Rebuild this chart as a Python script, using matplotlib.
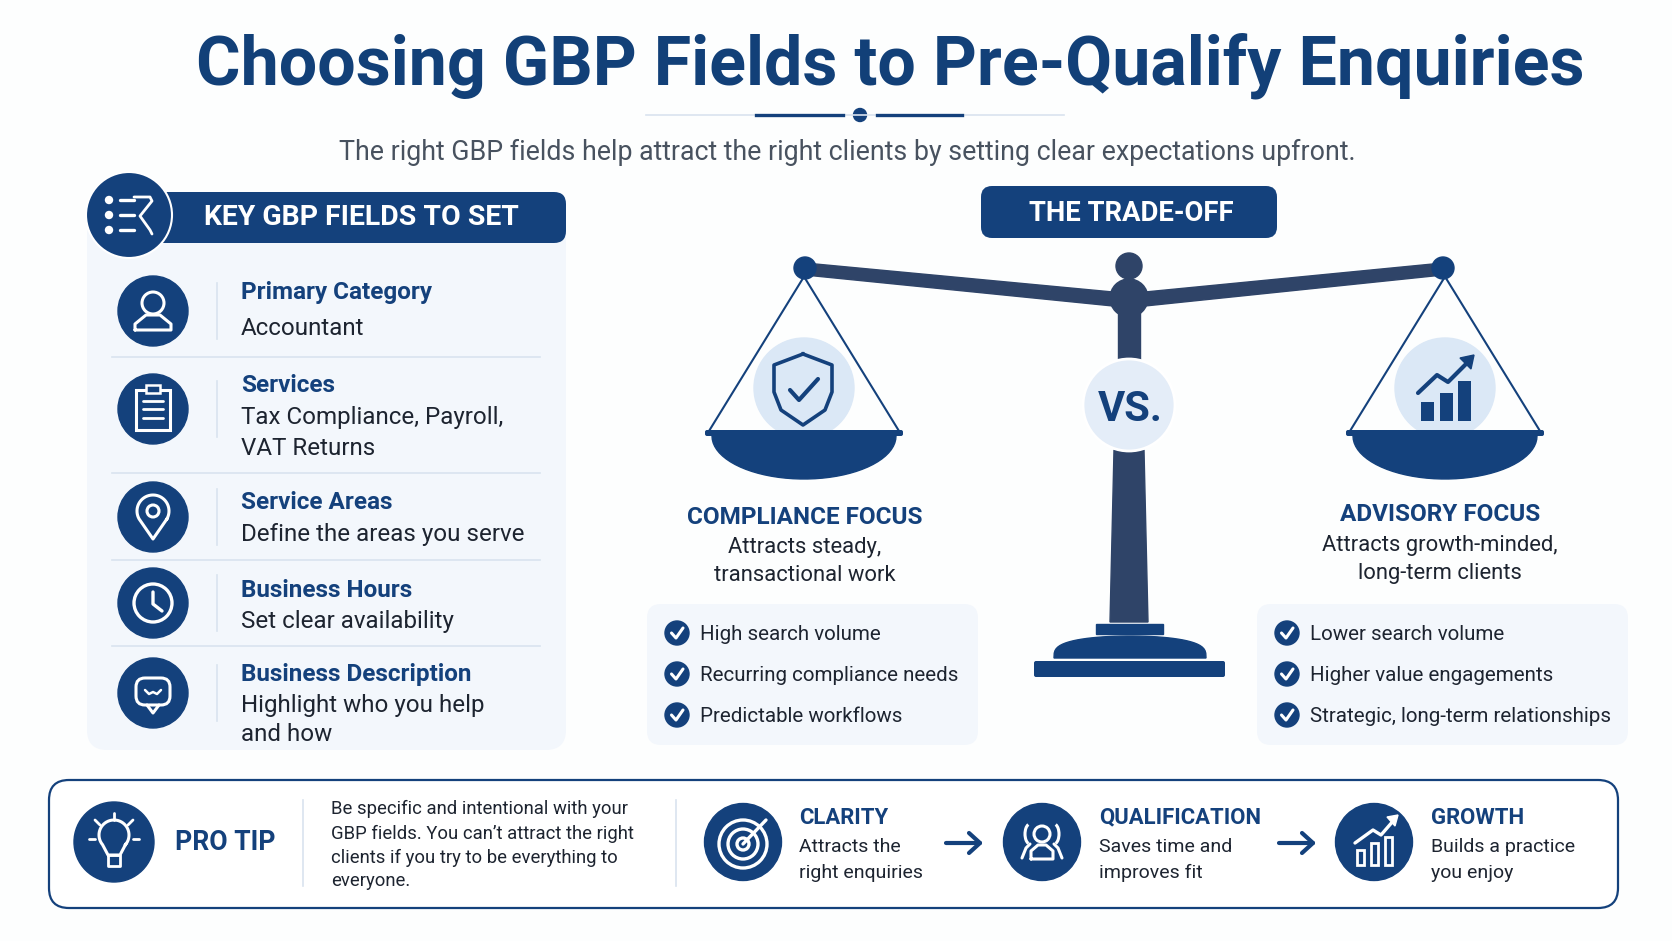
import numpy as np
import matplotlib
matplotlib.use('Agg')
import matplotlib.pyplot as plt
from matplotlib.patches import Circle, FancyBboxPatch, Polygon, Rectangle, Arc

plt.rcParams['font.family'] = ['Roboto', 'DejaVu Sans']

# textos do infografico
titulo = 'Choosing GBP Fields to Pre-Qualify Enquiries'
subtitulo = 'The right GBP fields help attract the right clients by setting clear expectations upfront.'
campos = ['Primary Category', 'Services', 'Service Areas', 'Business Hours', 'Business Description']
campos_texto = [['Accountant'], ['Tax Compliance, Payroll,', 'VAT Returns'], ['Define the areas you serve'],
                ['Set clear availability'], ['Highlight who you help', 'and how']]
compliance = ['High search volume', 'Recurring compliance needs', 'Predictable workflows']
advisory = ['Lower search volume', 'Higher value engagements', 'Strategic, long-term relationships']
dica = ['Be specific and intentional with your', "GBP fields. You can\u2019t attract the right",
        'clients if you try to be everything to', 'everyone.']
passos = ['CLARITY', 'QUALIFICATION', 'GROWTH']
passos_texto = [['Attracts the', 'right enquiries'], ['Saves time and', 'improves fit'], ['Builds a practice', 'you enjoy']]

AZUL = '#14417c'
ESCURO = '#2f4468'
CLARO = '#dbe8f6'
PAINEL = '#f3f7fc'
LINHA = '#d9e3ef'
TEXTO = '#1d2430'

fig = plt.figure(figsize=(16.72, 9.41), dpi=100, facecolor='#fdfefe')
ax = fig.add_axes([0, 0, 1, 1])
ax.set_xlim(0, 1672)
ax.set_ylim(941, 0)
ax.axis('off')


def caixa(x0, y0, x1, y1, r, **kw):
    ax.add_patch(FancyBboxPatch((x0 + r, y0 + r), x1 - x0 - 2 * r, y1 - y0 - 2 * r,
                                boxstyle='round,pad=%f,rounding_size=%f' % (r, r), **kw))


def txt(x, y, s, size, cor=TEXTO, peso='normal', ha='left'):
    ax.text(x, y + 1.5, s, fontsize=size, color=cor, fontweight=peso, ha=ha, va='center')


def traco(xs, ys, lw=2.2, cor='white'):
    ax.plot(xs, ys, color=cor, lw=lw, solid_capstyle='round', solid_joinstyle='round')


# cabecalho
txt(890, 64, titulo, 49.1, '#124078', 'bold', 'center')
ax.plot([646, 1064], [115, 115], color=LINHA, lw=1.2)
ax.plot([756, 843], [115, 115], color=AZUL, lw=2.4)
ax.plot([877, 962], [115, 115], color=AZUL, lw=2.4)
ax.add_patch(Circle((860, 115), 6.5, color=AZUL))
txt(847, 151, subtitulo, 19.3, '#48525f', 'normal', 'center')

# painel da esquerda
caixa(87, 215, 566, 750, 20, fc=PAINEL, ec='none')
caixa(150, 192, 566, 243, 12, fc=AZUL, ec='none')
ax.add_patch(Circle((129, 215), 43, fc=AZUL, ec='white', lw=1.5))
for yy in [200, 215, 230]:
    ax.add_patch(Circle((109, yy), 3.5, color='white'))
    traco([120, 134], [yy, yy], 2.4)
traco([134, 150, 152, 140, 150, 152], [197, 197, 201, 216, 230, 234], 2)
txt(361, 216, 'KEY GBP FIELDS TO SET', 20.4, 'white', 'bold', 'center')

centros = [311, 409, 517, 603, 693]
titulos_y = [291, 384, 501, 589, 673]
linhas_y = [[327], [416, 447], [533], [620], [704, 733]]
sep_y = [357, 473, 560, 646]
for i in range(5):
    ax.add_patch(Circle((153, centros[i]), 35, color=AZUL))
    ax.plot([217, 217], [centros[i] - 28, centros[i] + 28], color=LINHA, lw=1.2)
    txt(241, titulos_y[i], campos[i], 17.5, AZUL, 'bold')
    for s, yy in zip(campos_texto[i], linhas_y[i]):
        txt(241, yy, s, 17.4)
for yy in sep_y:
    ax.plot([112, 540], [yy, yy], color=LINHA, lw=1.2)

# icones da lista
cy = centros[0]
ax.add_patch(Circle((153, cy - 8), 11, fc='none', ec='white', lw=2.2))
traco([135, 171, 171, 160, 146, 135, 135], [cy + 19, cy + 19, cy + 13, cy + 4, cy + 4, cy + 13, cy + 19])
cy = centros[1]
ax.add_patch(Rectangle((136, cy - 19), 34, 40, fc='none', ec='white', lw=2.2))
ax.add_patch(Rectangle((146, cy - 24), 14, 8, fc=AZUL, ec='white', lw=1.8))
for yy in [cy - 8, cy, cy + 9]:
    traco([143, 163], [yy, yy], 2)
cy = centros[2]
th = np.radians(np.linspace(-30, 210, 40))
ax.plot(list(153 + 16 * np.cos(th)) + [153, 153 + 16 * np.cos(th[0])],
        list(cy - 6 - 16 * np.sin(th)) + [cy + 22, cy - 6 - 16 * np.sin(th[0])], color='white', lw=2.2)
ax.add_patch(Circle((153, cy - 6), 6, fc='none', ec='white', lw=2.2))
cy = centros[3]
ax.add_patch(Circle((153, cy), 19, fc='none', ec='white', lw=2.4))
traco([153, 153, 162], [cy - 11, cy + 1, cy + 8], 2.4)
cy = centros[4]
caixa(136, cy - 15, 170, cy + 12, 9, fc='none', ec='white', lw=2.2)
traco([147, 153, 159], [cy + 12, cy + 20, cy + 12])
traco([145, 149, 153, 157, 161], [cy - 3, cy + 1, cy - 1, cy + 1, cy - 3], 1.8)

# balanca
caixa(981, 186, 1277, 238, 11, fc=AZUL, ec='none')
txt(1131, 212, 'THE TRADE-OFF', 19.8, 'white', 'bold', 'center')
ax.add_patch(Polygon([(805, 263), (1113, 292), (1113, 306), (805, 275)], color=ESCURO))
ax.add_patch(Polygon([(1443, 263), (1145, 292), (1145, 306), (1443, 275)], color=ESCURO))
ax.add_patch(Rectangle((1118, 300), 22, 60, color=ESCURO))
ax.add_patch(Polygon([(1114, 450), (1144, 450), (1148, 622), (1110, 622)], color=ESCURO))
ax.add_patch(Circle((805, 268), 11, color=AZUL))
ax.add_patch(Circle((1443, 268), 11, color=AZUL))
ax.add_patch(Circle((1129, 266), 13, color=ESCURO))
ax.add_patch(Circle((1129, 298), 19, color=ESCURO))
ax.add_patch(Circle((1129, 405), 46, fc='#e4edf8', ec='white', lw=2))
txt(1130, 408, 'VS.', 30, AZUL, 'bold', 'center')
ax.add_patch(Rectangle((1096, 624), 67, 10, color=AZUL))
th = np.linspace(0, np.pi, 40)
ax.add_patch(Polygon(np.c_[1130 + 76 * np.cos(th), 658 - 22 * np.sin(th) ** 0.6], color=AZUL))
caixa(1034, 661, 1225, 677, 2, fc=AZUL, ec='none')

for cx, rimo in [(804, 705), (1445, 1346)]:
    ax.add_patch(Circle((cx, 388), 50, color=CLARO))
    ax.plot([cx + 1, rimo + 4], [275, 431], color=AZUL, lw=1.5)
    ax.plot([cx - 1, 2 * cx - rimo - 4], [275, 431], color=AZUL, lw=1.5)
    ax.add_patch(Polygon(np.c_[cx + 92 * np.cos(th), 436 + 43 * np.sin(th)], color=AZUL))
    caixa(rimo, 430, 2 * cx - rimo, 436, 2, fc=AZUL, ec='none')

# escudo
ax.plot([803, 832, 832, 825, 803, 781, 774, 774, 803], [354, 365, 392, 410, 425, 410, 392, 365, 354],
        color=AZUL, lw=2.6, solid_joinstyle='round')
traco([790, 799, 818], [390, 400, 379], 3, AZUL)
# barras e seta
ax.bar([1427.5, 1446, 1464], [19, 28, 40], width=13, bottom=[402, 393, 381], color=AZUL)
traco([1418, 1437, 1448, 1470], [393, 375, 382, 360], 3, AZUL)
ax.add_patch(Polygon([(1474, 355), (1460, 358), (1471, 369)], color=AZUL))

txt(805, 516, 'COMPLIANCE FOCUS', 17.5, AZUL, 'bold', 'center')
txt(805, 546, 'Attracts steady,', 15.8, TEXTO, 'normal', 'center')
txt(805, 574, 'transactional work', 15.8, TEXTO, 'normal', 'center')
txt(1440, 513, 'ADVISORY FOCUS', 17.5, AZUL, 'bold', 'center')
txt(1440, 544, 'Attracts growth-minded,', 15.8, TEXTO, 'normal', 'center')
txt(1440, 572, 'long-term clients', 15.8, TEXTO, 'normal', 'center')

caixas_x = [(647, 978, 677, 700), (1257, 1628, 1287, 1310)]
for (x0, x1, xc, xt), itens in zip(caixas_x, [compliance, advisory]):
    caixa(x0, 604, x1, 745, 14, fc=PAINEL, ec='none')
    for yy, s in zip([633, 674, 715], itens):
        ax.add_patch(Circle((xc, yy), 12, color=AZUL))
        traco([xc - 5.5, xc - 1, xc + 6], [yy, yy + 5, yy - 5], 2.2)
        txt(xt, yy, s, 14.75)

# faixa de baixo
caixa(49, 780, 1618, 908, 20, fc='white', ec=AZUL, lw=1.6)
ax.add_patch(Circle((114, 842), 40, color=AZUL))
txt(175, 841, 'PRO TIP', 19.2, AZUL, 'bold')
for xx in [303, 676]:
    ax.plot([xx, xx], [800, 886], color=LINHA, lw=1.2)
for yy, s in zip([807, 832, 856, 880], dica):
    txt(331, yy, s, 13.3)
# lampada
ang = np.radians(np.linspace(-40, 220, 40))
ax.plot(list(114 + 15 * np.cos(ang)) + [108, 120, 114 + 15 * np.cos(ang[0])],
        list(835 - 15 * np.sin(ang)) + [855, 855, 835 - 15 * np.sin(ang[0])], color='white', lw=2.2)
traco([108, 120, 120, 108, 108], [855, 855, 866, 866, 855], 2)
for x0, y0, x1, y1 in [(114, 813, 114, 820), (95, 820, 100, 825), (133, 820, 128, 825), (89, 839, 95, 839), (133, 839, 139, 839)]:
    traco([x0, x1], [y0, y1], 2)

centros_x = [743, 1042, 1374]
textos_x = [799, 1099, 1431]
for xc, xt, nome, sub in zip(centros_x, textos_x, passos, passos_texto):
    ax.add_patch(Circle((xc, 842), 38.5, color=AZUL))
    txt(xt, 816, nome, 15.9, AZUL, 'bold')
    txt(xt, 845, sub[0], 14)
    txt(xt, 871, sub[1], 14)
for x0, x1 in [(946, 980), (1279, 1313)]:
    traco([x0, x1], [843, 843], 3, AZUL)
    traco([x1 - 11, x1, x1 - 11], [833, 843, 853], 3, AZUL)

# alvo
for r in [24, 15, 6]:
    ax.add_patch(Circle((743, 844), r, fc='none', ec='white', lw=2.4))
traco([743, 766], [844, 820], 2.4)
# pessoas
ax.add_patch(Circle((1042, 834), 8, fc='none', ec='white', lw=2.2))
traco([1031, 1053, 1053, 1046, 1038, 1031, 1031], [859, 859, 851, 845, 845, 851, 859], 2.2)
ax.add_patch(Arc((1030, 834), 10, 20, theta1=100, theta2=260, color='white', lw=2.2))
ax.add_patch(Arc((1054, 834), 10, 20, theta1=-80, theta2=80, color='white', lw=2.2))
traco([1022, 1026, 1030], [858, 848, 844], 2.2)
traco([1062, 1058, 1054], [858, 848, 844], 2.2)
# crescimento
ax.bar([1360, 1374, 1388], [15, 22, 28], width=7, bottom=[850, 843, 837], fc='none', ec='white', lw=2)
traco([1355, 1373, 1381, 1394], [843, 830, 835, 820], 2.4)
ax.add_patch(Polygon([(1398, 815), (1387, 817), (1395, 826)], color='white'))

plt.savefig('out.png', dpi=100)
